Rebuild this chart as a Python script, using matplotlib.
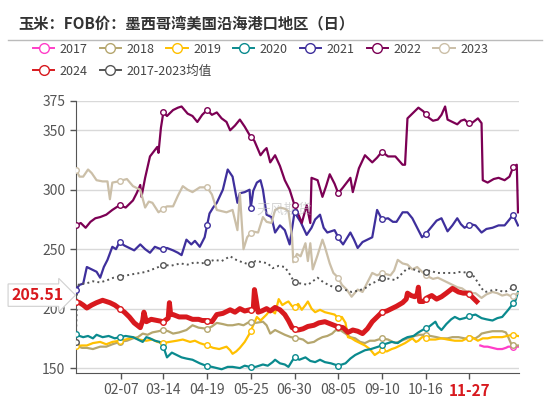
import numpy as np
import matplotlib
matplotlib.use('Agg')
import matplotlib.pyplot as plt
from matplotlib.lines import Line2D

plt.rcParams['font.family'] = ['Noto Sans CJK SC', 'DejaVu Sans']

# 数据：横轴为一年中的第几天
d2017 = [333, 336, 339, 343, 347, 351, 354, 356, 359, 362, 364]
v2017 = [169, 168, 168, 167, 166, 166, 167, 168, 168, 168, 168]

d2018 = [0, 5, 9, 14, 20, 25, 30, 36, 42, 47, 51, 55, 59, 63, 68, 72, 76, 80, 85, 91, 96, 101, 108, 112, 116,
         121, 125, 129, 134, 138, 143, 148, 154, 157, 160, 164, 168, 172, 177, 183, 187, 191, 196, 199, 203,
         207, 211, 216, 219, 222, 226, 230, 234, 238, 242, 246, 252, 257, 263, 268, 273, 279, 283, 287, 292,
         297, 301, 306, 310, 315, 320, 325, 329, 332, 334, 338, 343, 347, 351, 354, 356, 359, 364]
v2018 = [169, 167, 167, 166, 168, 168, 170, 172, 173, 175, 176, 179, 178, 180, 181, 182, 181, 179, 180, 182,
         186, 184, 183, 185, 188, 187, 186, 186, 187, 186, 189, 188, 189, 186, 179, 182, 180, 178, 176, 175,
         174, 171, 172, 174, 176, 177, 179, 184, 181, 179, 176, 175, 172, 171, 173, 173, 175, 174, 171, 173,
         175, 177, 178, 178, 177, 176, 175, 175, 176, 176, 175, 175, 175, 177, 179, 180, 181, 181, 181, 180,
         176, 169, 169]

d2019 = [0, 5, 9, 14, 20, 25, 30, 36, 41, 47, 52, 58, 63, 67, 72, 77, 83, 88, 94, 98, 102, 108, 113, 118, 124,
         127, 129, 132, 135, 139, 143, 146, 149, 152, 154, 157, 160, 164, 167, 170, 173, 175, 178, 180, 183,
         186, 189, 191, 194, 197, 201, 205, 209, 213, 216, 219, 222, 224, 227, 230, 234, 238, 242, 246, 249,
         252, 256, 260, 263, 267, 271, 274, 277, 280, 282, 285, 287, 291, 296, 301, 306, 312, 318, 322, 326,
         331, 335, 339, 343, 347, 351, 355, 359, 364]
v2019 = [168.5, 169, 169, 171, 172, 170, 172, 173, 174, 176, 174, 173, 174, 172, 171, 172, 173, 174, 172, 173,
         171, 169, 167, 166, 168, 165, 162, 164, 167, 172, 179, 186, 193, 190, 192, 195, 199, 196, 208, 203,
         205, 206, 202, 201, 204, 199, 203, 206, 200, 197, 199, 197, 196, 195, 192, 193, 188, 176, 175, 173,
         171, 169, 166, 161, 163, 165, 164, 166, 167, 169, 171, 173, 175, 172, 173, 176, 176, 174, 174, 175,
         174, 173, 173, 175, 176, 173, 175, 175, 176, 176, 176, 177, 178, 177]

d2020 = [0, 3, 6, 10, 14, 17, 22, 27, 32, 36, 41, 47, 51, 55, 58, 61, 65, 69, 72, 75, 79, 83, 87, 91, 96, 102,
         107, 112, 116, 120, 125, 129, 135, 139, 143, 148, 154, 158, 162, 164, 168, 172, 175, 178, 180, 184,
         189, 193, 197, 201, 205, 210, 216, 219, 222, 226, 230, 234, 238, 243, 249, 254, 260, 265, 269, 273,
         278, 282, 287, 291, 296, 298, 301, 305, 309, 312, 316, 320, 325, 329, 334, 338, 343, 347, 351, 356,
         359, 362, 364]
v2020 = [179, 177, 176, 177, 175, 178, 176, 177, 175, 176, 177, 176, 174, 172, 176, 175, 173, 172, 168, 159,
         163, 161, 159, 158, 157, 154, 152, 151, 150, 149, 151, 151, 150, 152, 151, 151, 153, 152, 155, 157,
         154, 153, 151, 156, 159, 157, 159, 156, 155, 157, 155, 154, 152, 153, 154, 158, 161, 163, 165, 166,
         168, 170, 172, 171, 174, 176, 177, 180, 183, 185, 189, 185, 182, 187, 191, 193, 191, 192, 194, 195,
         192, 191, 190, 192, 193, 199, 203, 207, 214]

d2021 = [0, 3, 6, 9, 13, 17, 20, 23, 26, 30, 33, 36, 40, 44, 48, 53, 57, 61, 65, 70, 75, 80, 84, 87, 91, 95, 98,
         102, 106, 110, 113, 116, 121, 125, 129, 133, 135, 139, 143, 144, 146, 149, 152, 154, 157, 161, 164,
         168, 172, 176, 180, 185, 190, 194, 197, 201, 204, 207, 213, 217, 220, 226, 229, 232, 236, 240, 244,
         248, 252, 257, 261, 264, 269, 273, 277, 281, 285, 289, 293, 297, 301, 306, 310, 314, 317, 320, 325,
         329, 334, 338, 343, 348, 353, 357, 360, 364]
v2021 = [216, 220, 221, 235, 233, 231, 226, 235, 241, 252, 250, 256, 253, 251, 249, 254, 250, 247, 252, 250,
         251, 249, 247, 245, 258, 254, 257, 252, 260, 280, 285, 289, 300, 317, 311, 289, 297, 298, 300, 285,
         299, 306, 308, 300, 279, 277, 264, 270, 266, 254, 281, 273, 262, 268, 275, 279, 268, 264, 266, 258,
         254, 264, 258, 251, 256, 258, 260, 283, 275, 276, 273, 273, 281, 281, 276, 268, 260, 264, 269, 274,
         276, 265, 270, 276, 271, 268, 271, 270, 264, 267, 268, 270, 270, 275, 279, 270]

d2022 = [0, 4, 8, 12, 16, 20, 25, 30, 36, 41, 47, 50, 53, 54, 57, 61, 64, 67, 68, 70, 72, 75, 80, 84, 87, 92, 96,
         100, 104, 108, 112, 116, 120, 124, 127, 131, 135, 139, 143, 147, 152, 155, 157, 160, 164, 168, 172,
         176, 180, 183, 186, 190, 193, 194, 199, 203, 206, 209, 213, 216, 220, 226, 228, 233, 238, 244, 248,
         252, 257, 263, 269, 271, 273, 277, 282, 286, 290, 294, 298, 301, 304, 306, 310, 314, 317, 320, 323,
         326, 331, 334, 335, 339, 344, 348, 353, 357, 360, 363, 364]
v2022 = [270, 272, 268, 273, 276, 277, 279, 283, 287, 285, 291, 297, 304, 294, 310, 328, 332, 336, 331, 352,
         365, 362, 367, 369, 370, 364, 362, 357, 363, 367, 363, 365, 360, 357, 350, 354, 359, 353, 346, 341,
         329, 333, 335, 323, 329, 320, 308, 300, 287, 280, 272, 287, 272, 310, 308, 294, 303, 313, 305, 297,
         302, 310, 298, 318, 329, 323, 327, 332, 328, 328, 321, 321, 360, 364, 369, 366, 361, 358, 359, 363,
         370, 359, 357, 355, 358, 359, 356, 356, 360, 356, 308, 306, 309, 310, 308, 311, 319, 321, 281]

d2023 = [0, 3, 6, 10, 13, 17, 22, 26, 28, 30, 35, 42, 47, 53, 57, 60, 63, 68, 72, 75, 80, 84, 88, 92, 96, 102,
         108, 112, 116, 120, 124, 129, 133, 135, 138, 141, 145, 150, 154, 157, 161, 164, 168, 172, 175, 178,
         179, 182, 185, 189, 191, 193, 195, 199, 203, 205, 209, 212, 216, 219, 223, 227, 232, 236, 240, 244,
         248, 252, 259, 262, 265, 269, 273, 277, 281, 285, 290, 294, 298, 302, 306, 310, 314, 318, 322, 326,
         329, 334, 338, 343, 347, 351, 355, 359, 364]
v2023 = [317, 311, 311, 317, 314, 308, 307, 307, 292, 306, 307, 309, 303, 300, 285, 290, 289, 281, 284, 286,
         286, 295, 303, 300, 298, 302, 302, 296, 283, 282, 281, 283, 266, 297, 250, 260, 265, 264, 277, 273,
         272, 283, 285, 284, 282, 260, 239, 246, 244, 255, 240, 255, 233, 245, 258, 252, 238, 230, 226, 220,
         216, 210, 216, 214, 222, 230, 228, 230, 228, 232, 241, 238, 237, 233, 235, 231, 227, 225, 226, 224,
         222, 220, 218, 217, 214, 213, 213, 209, 212, 214, 213, 211, 212, 210, 213]

d2024 = [0, 3, 6, 9, 13, 17, 22, 28, 32, 36, 40, 44, 48, 53, 55, 56, 58, 62, 67, 72, 76, 77, 78, 80, 85, 91, 96,
         101, 104, 108, 112, 116, 121, 127, 131, 135, 139, 143, 146, 147, 148, 150, 153, 157, 160, 164, 168,
         172, 175, 178, 183, 187, 191, 196, 200, 205, 210, 215, 220, 224, 228, 232, 236, 240, 244, 248, 252,
         256, 260, 264, 269, 272, 273, 276, 279, 281, 282, 283, 286, 289, 293, 297, 301, 305, 310, 315, 319,
         323, 326, 330]
v2024 = [205.51, 205, 203, 200.5, 203, 205, 207, 205, 203, 200, 197, 193, 188, 184, 190, 197, 189, 191, 190,
         189, 192, 205, 195, 195, 193, 193, 191, 191, 190, 190, 189, 195, 196, 199, 197, 200, 198, 199, 199,
         216, 210, 197, 198, 200, 198, 201, 199, 195, 190, 184, 182, 183, 185, 186, 188, 189, 187, 185, 184,
         180, 182, 181, 179, 183, 189, 193, 197, 198, 200, 202, 205, 208, 213, 211, 210, 212, 218, 206, 206,
         209, 211, 208, 210, 213, 217, 214, 213, 213, 210, 206]

dAvg = [0, 1, 3, 8, 14, 20, 26, 31, 36, 42, 47, 53, 58, 63, 68, 72, 78, 86, 92, 98, 103, 108, 114, 120, 127, 132,
        137, 143, 148, 154, 158, 162, 167, 172, 176, 180, 186, 191, 195, 199, 204, 210, 216, 221, 227, 232, 238,
        243, 248, 252, 258, 263, 268, 273, 278, 283, 287, 292, 297, 301, 306, 312, 317, 323, 327, 331, 334, 337,
        341, 345, 349, 353, 357, 360, 364]
vAvg = [172, 218, 221, 221, 223, 222, 224, 226, 227, 228, 229, 230, 231, 233, 235, 237, 236, 238, 237, 239,
        238, 239, 241, 240, 244, 241, 239, 237, 240, 239, 238, 234, 236, 235, 229, 222, 221, 220, 223, 226,
        222, 219, 217, 216, 214, 215, 217, 221, 223, 226, 225, 224, 229, 234, 233, 231, 231, 232, 230, 230,
        230, 230, 231, 230, 228, 222, 217, 214, 215, 216, 215, 214, 216, 218, 216]

tick_days = [37, 72, 108, 144, 180, 216, 252, 288, 324]
tick_labels = ['02-07', '03-14', '04-19', '05-25', '06-30', '08-05', '09-10', '10-16', '11-27']
marker_days = [0, 36, 72, 108, 144, 180, 216, 252, 288, 324, 360]

series = [
    ('2017', d2017, v2017, '#ff3ec8', 1.6, '-'),
    ('2018', d2018, v2018, '#b5a66e', 1.6, '-'),
    ('2019', d2019, v2019, '#ffc000', 1.6, '-'),
    ('2020', d2020, v2020, '#0a8a8e', 1.6, '-'),
    ('2021', d2021, v2021, '#3e2f9c', 1.6, '-'),
    ('2022', d2022, v2022, '#7c0054', 1.6, '-'),
    ('2023', d2023, v2023, '#cbbfa8', 1.6, '-'),
    ('2024', d2024, v2024, '#d8191e', 3.6, '-'),
    ('2017-2023均值', dAvg, vAvg, '#555555', 1.4, ':'),
]

fig = plt.figure(figsize=(5.5, 3.99), dpi=100)
ax = fig.add_axes([0.138, 0.065, 0.806, 0.683])

handles = []
for name, d, v, c, lw, ls in series:
    z = 5 if name == '2024' else 3
    ax.plot(d, v, color=c, lw=lw, ls=ls, zorder=z, solid_joinstyle='round')
    md = [m for m in marker_days if d[0] <= m <= d[-1]]
    ax.plot(md, np.interp(md, d, v), 'o', ms=4, mfc='white', mec=c, mew=1, zorder=z + 1)
    handles.append(Line2D([], [], color=c, lw=1.4, marker='o', ms=7, mfc='white', mec=c, mew=1))

ax.set_xlim(0, 365)
ax.set_ylim(145.8, 375)
ax.set_yticks([150, 200, 250, 300, 350, 375])
ax.set_xticks(tick_days)
ax.set_xticklabels(tick_labels)
ax.tick_params(axis='both', labelsize=10, colors='#555555', length=4, width=1)
ax.tick_params(axis='x', pad=3)
for lab in ax.get_xticklabels():
    if lab.get_text() == '11-27':
        lab.set_color('#d8191e')
        lab.set_fontweight('bold')
        lab.set_fontsize(11)
ax.grid(axis='y', color='#d9d9d9', lw=1)
ax.set_axisbelow(True)
for s in ['top', 'right']:
    ax.spines[s].set_visible(False)
for s in ['left', 'bottom']:
    ax.spines[s].set_color('#555555')

# 最新值标注
ax.annotate('205.51', xy=(0, v2024[0]), xytext=(-9, 5), textcoords='offset points',
            ha='right', va='center', fontsize=11.5, fontweight='bold', color='#d8191e',
            bbox=dict(boxstyle='rarrow,pad=0.2', fc='white', ec='#d0d0d0', lw=0.8),
            annotation_clip=False, zorder=10)

ax.text(0.47, 0.6, '天风期货', transform=ax.transAxes, fontsize=10, color='#bbbbbb',
        alpha=0.6, ha='center', va='center')

fig.text(0.033, 0.942, '玉米：FOB价：墨西哥湾美国沿海港口地区（日）', fontsize=11,
         fontweight='bold', color='#333333', va='center')
fig.add_artist(Line2D([0.015, 0.985], [0.9, 0.9], transform=fig.transFigure, color='#bbbbbb', lw=1))

names = [s[0] for s in series]
leg_kw = dict(loc='upper left', frameon=False, fontsize=9, handlelength=1.7, handletextpad=0.45,
              columnspacing=0.95, borderpad=0, borderaxespad=0, labelcolor='#444444')
leg1 = fig.legend(handles[:7], names[:7], ncol=7, bbox_to_anchor=(0.06, 0.893), **leg_kw)
fig.legend(handles[7:], names[7:], ncol=2, bbox_to_anchor=(0.06, 0.838), **leg_kw)

fig.savefig('out.png', dpi=100)
